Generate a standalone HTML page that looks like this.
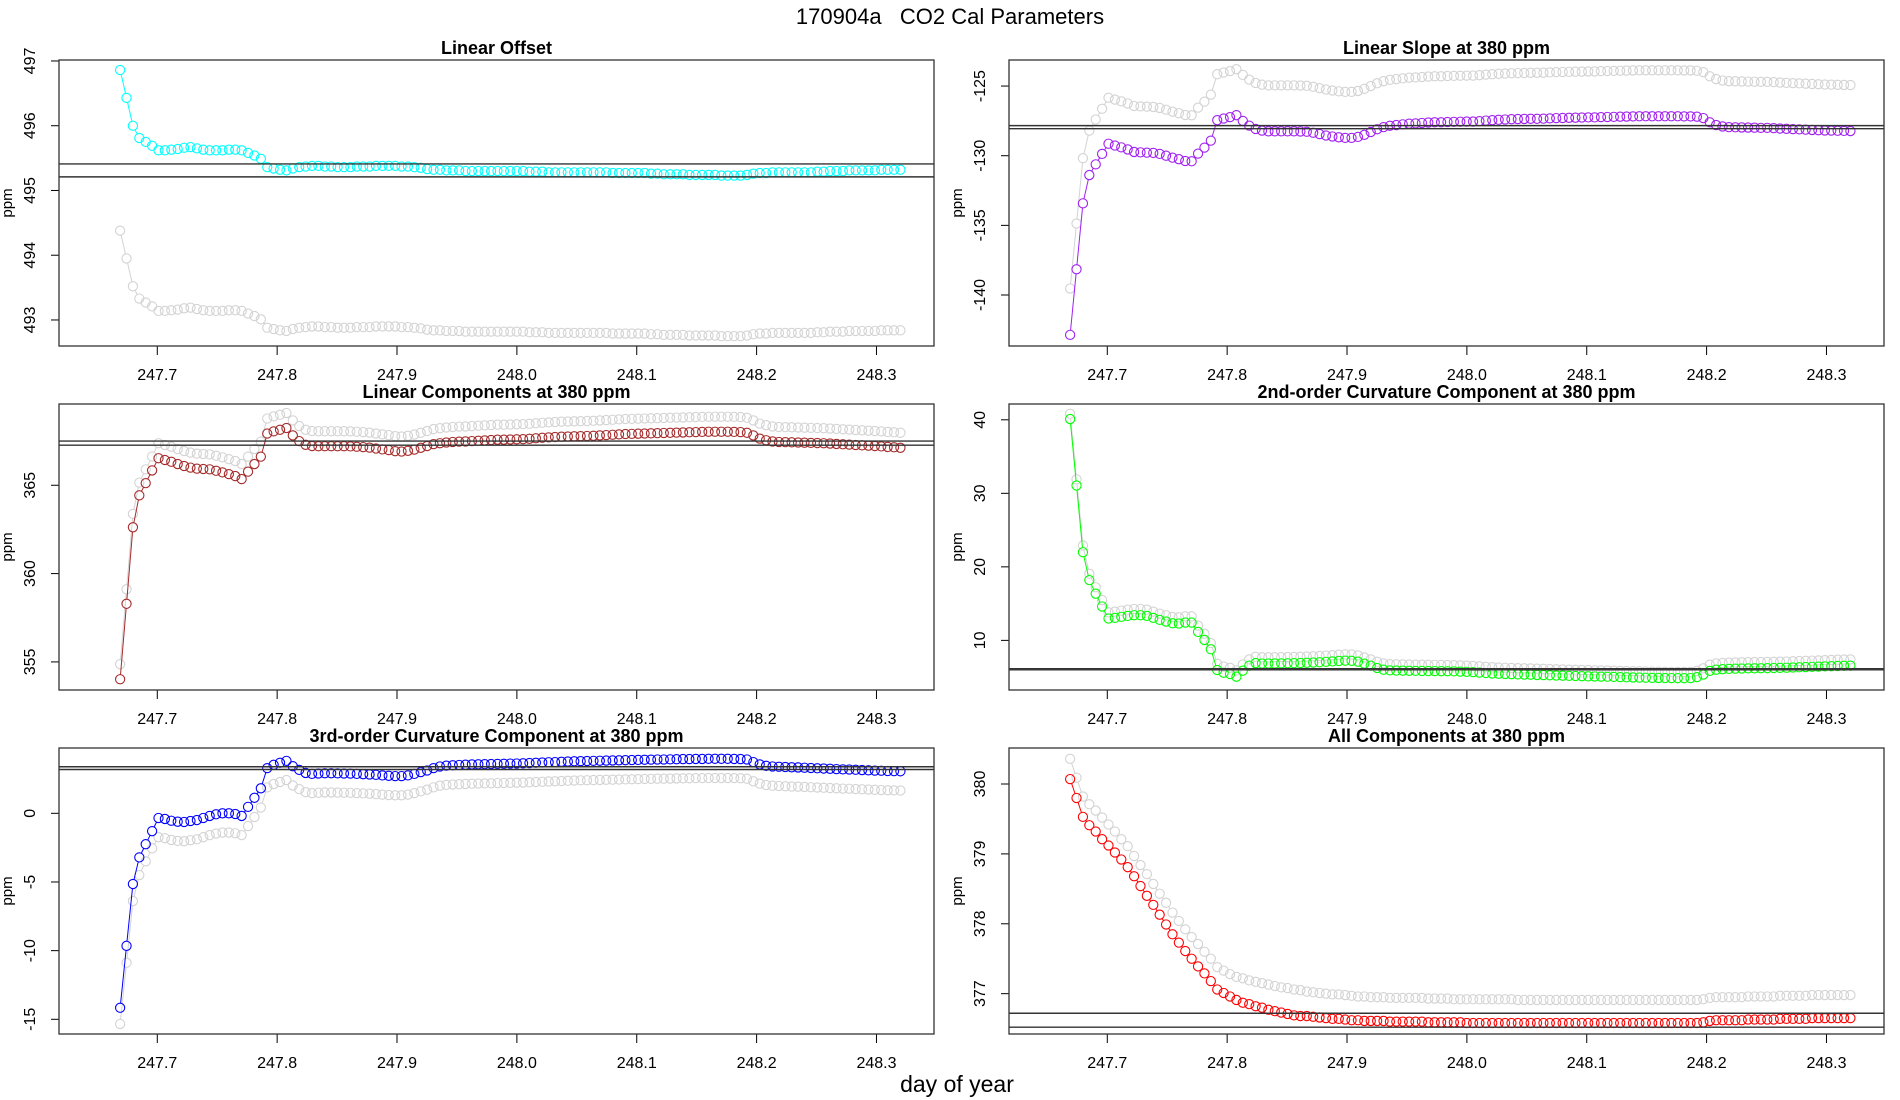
<!DOCTYPE html>
<html><head><meta charset="utf-8">
<style>
html,body{margin:0;padding:0;background:#fff;}
svg{display:block;font-family:"Liberation Sans",Arial,sans-serif;}
</style></head>
<body>
<svg id="chart" width="1900" height="1100" viewBox="0 0 1900 1100">
<text x="950" y="24" font-size="22" text-anchor="middle" fill="#000">170904a&#160;&#160;&#160;CO2 Cal Parameters</text>
<text x="957" y="1092" font-size="23" text-anchor="middle" fill="#000">day of year</text>
</svg>
<script>
const startDay = 247.669;
const stepDay = 0.005336;
const xTicks = [247.7, 247.8, 247.9, 248.0, 248.1, 248.2, 248.3];
const xTickLabels = ["247.7","247.8","247.9","248.0","248.1","248.2","248.3"];

const offsetCyan = [496.86,496.43,496.00,495.81,495.75,495.69,495.62,495.62,495.63,495.64,
495.66,495.67,495.65,495.63,495.62,495.62,495.62,495.63,495.63,495.62,
495.58,495.54,495.49,495.36,495.34,495.32,495.31,495.34,495.36,495.37,
495.38,495.38,495.37,495.37,495.36,495.36,495.36,495.37,495.37,495.37,
495.38,495.38,495.38,495.38,495.37,495.37,495.36,495.35,495.33,495.32,
495.32,495.31,495.31,495.31,495.30,495.30,495.30,495.30,495.30,495.30,
495.30,495.30,495.30,495.30,495.29,495.29,495.29,495.28,495.28,495.28,
495.28,495.28,495.28,495.28,495.28,495.28,495.28,495.27,495.27,495.27,
495.27,495.27,495.27,495.26,495.26,495.25,495.25,495.25,495.25,495.24,
495.24,495.24,495.24,495.24,495.23,495.23,495.23,495.23,495.24,495.26,
495.27,495.27,495.28,495.28,495.28,495.28,495.28,495.28,495.28,495.29,
495.29,495.30,495.30,495.30,495.31,495.31,495.31,495.31,495.31,495.32,
495.32,495.32,495.32];
const offsetGray = [494.38,493.95,493.52,493.33,493.27,493.21,493.14,493.14,493.15,493.16,
493.18,493.19,493.17,493.15,493.14,493.14,493.14,493.15,493.15,493.14,
493.10,493.06,493.01,492.88,492.86,492.84,492.83,492.86,492.88,492.89,
492.90,492.90,492.89,492.89,492.88,492.88,492.88,492.89,492.89,492.89,
492.90,492.90,492.90,492.90,492.89,492.89,492.88,492.87,492.85,492.84,
492.84,492.83,492.83,492.83,492.82,492.82,492.82,492.82,492.82,492.82,
492.82,492.82,492.82,492.82,492.81,492.81,492.81,492.80,492.80,492.80,
492.80,492.80,492.80,492.80,492.80,492.80,492.80,492.79,492.79,492.79,
492.79,492.79,492.79,492.78,492.78,492.77,492.77,492.77,492.77,492.76,
492.76,492.76,492.76,492.76,492.75,492.75,492.75,492.75,492.76,492.78,
492.79,492.79,492.80,492.80,492.80,492.80,492.80,492.80,492.80,492.81,
492.81,492.82,492.82,492.82,492.83,492.83,492.83,492.83,492.83,492.84,
492.84,492.84,492.84];
const offsetRefs = [495.41, 495.21];
const offsetTicks = [493,494,495,496,497];

const slopePurple = [-142.86,-138.15,-133.42,-131.39,-130.62,-129.87,-129.14,-129.27,-129.40,-129.55,
-129.73,-129.76,-129.78,-129.80,-129.87,-130.00,-130.14,-130.25,-130.38,-130.40,
-129.85,-129.42,-128.92,-127.45,-127.33,-127.23,-127.09,-127.50,-127.84,-128.08,
-128.20,-128.25,-128.25,-128.25,-128.25,-128.25,-128.26,-128.28,-128.35,-128.45,
-128.55,-128.62,-128.68,-128.72,-128.72,-128.65,-128.50,-128.30,-128.10,-127.95,
-127.85,-127.80,-127.75,-127.70,-127.68,-127.65,-127.62,-127.60,-127.60,-127.58,
-127.57,-127.56,-127.55,-127.55,-127.52,-127.48,-127.45,-127.42,-127.40,-127.38,
-127.37,-127.36,-127.35,-127.35,-127.34,-127.32,-127.30,-127.29,-127.28,-127.27,
-127.26,-127.25,-127.25,-127.23,-127.22,-127.21,-127.20,-127.19,-127.18,-127.17,
-127.17,-127.17,-127.17,-127.17,-127.17,-127.17,-127.18,-127.18,-127.20,-127.30,
-127.60,-127.80,-127.90,-127.95,-127.96,-127.97,-127.98,-127.99,-128.00,-128.00,
-128.02,-128.05,-128.07,-128.09,-128.11,-128.13,-128.15,-128.17,-128.19,-128.20,
-128.21,-128.22,-128.23];
const slopeGray = [-139.53,-134.87,-130.18,-128.20,-127.40,-126.63,-125.84,-125.97,-126.10,-126.25,
-126.43,-126.46,-126.48,-126.50,-126.57,-126.70,-126.84,-126.95,-127.08,-127.10,
-126.55,-126.12,-125.62,-124.15,-124.03,-123.93,-123.79,-124.20,-124.54,-124.78,
-124.90,-124.95,-124.95,-124.95,-124.95,-124.95,-124.96,-124.98,-125.05,-125.15,
-125.25,-125.32,-125.38,-125.42,-125.42,-125.35,-125.20,-125.00,-124.80,-124.65,
-124.55,-124.50,-124.45,-124.40,-124.38,-124.35,-124.32,-124.30,-124.30,-124.28,
-124.27,-124.26,-124.25,-124.25,-124.22,-124.18,-124.15,-124.12,-124.10,-124.08,
-124.07,-124.06,-124.05,-124.05,-124.04,-124.02,-124.00,-123.99,-123.98,-123.97,
-123.96,-123.95,-123.95,-123.93,-123.92,-123.91,-123.90,-123.89,-123.88,-123.87,
-123.87,-123.87,-123.87,-123.87,-123.87,-123.87,-123.88,-123.88,-123.90,-124.00,
-124.30,-124.50,-124.60,-124.65,-124.66,-124.67,-124.68,-124.69,-124.70,-124.70,
-124.72,-124.75,-124.77,-124.79,-124.81,-124.83,-124.85,-124.87,-124.89,-124.90,
-124.91,-124.92,-124.93];
const slopeRefs = [-127.84, -128.06];
const slopeTicks = [-140,-135,-130,-125];

const linCompBrown = [354.02,358.29,362.62,364.43,365.12,365.84,366.53,366.43,366.33,366.20,
366.09,366.00,365.94,365.92,365.90,365.82,365.73,365.63,365.52,365.35,
365.77,366.20,366.62,367.93,368.05,368.14,368.24,367.82,367.50,367.29,
367.22,367.21,367.21,367.21,367.21,367.21,367.20,367.18,367.16,367.13,
367.08,367.03,366.99,366.93,366.91,366.95,367.02,367.12,367.22,367.33,
367.38,367.42,367.45,367.47,367.48,367.50,367.52,367.54,367.56,367.58,
367.58,367.59,367.60,367.61,367.63,367.66,367.69,367.71,367.73,367.75,
367.76,367.77,367.78,367.79,367.80,367.82,367.84,367.86,367.88,367.90,
367.91,367.92,367.93,367.94,367.95,367.96,367.97,367.98,367.99,368.00,
368.01,368.02,368.03,368.03,368.03,368.03,368.02,368.01,367.97,367.82,
367.64,367.55,367.48,367.45,367.44,367.43,367.42,367.41,367.40,367.39,
367.38,367.36,367.34,367.32,367.30,367.28,367.26,367.24,367.22,367.20,
367.17,367.15,367.12];
const linCompGray = [354.87,359.11,363.38,365.15,365.90,366.63,367.38,367.28,367.18,367.05,
366.94,366.85,366.79,366.77,366.75,366.67,366.58,366.48,366.37,366.20,
366.62,367.05,367.47,368.78,368.90,368.99,369.09,368.67,368.35,368.14,
368.07,368.06,368.06,368.06,368.06,368.06,368.05,368.03,368.01,367.98,
367.93,367.88,367.84,367.78,367.76,367.80,367.87,367.97,368.07,368.18,
368.23,368.27,368.30,368.32,368.33,368.35,368.37,368.39,368.41,368.43,
368.43,368.44,368.45,368.46,368.48,368.51,368.54,368.56,368.58,368.60,
368.61,368.62,368.63,368.64,368.65,368.67,368.69,368.71,368.73,368.75,
368.76,368.77,368.78,368.79,368.80,368.81,368.82,368.83,368.84,368.85,
368.86,368.87,368.88,368.88,368.88,368.88,368.87,368.86,368.82,368.67,
368.49,368.40,368.33,368.30,368.29,368.28,368.27,368.26,368.25,368.24,
368.23,368.21,368.19,368.17,368.15,368.13,368.11,368.09,368.07,368.05,
368.02,368.00,367.97];
const linCompRefs = [367.5, 367.27];
const linCompTicks = [355,360,365];

const curv2Green = [40.10,31.06,21.99,18.19,16.35,14.61,12.97,13.06,13.20,13.33,
13.42,13.42,13.33,13.06,12.79,12.56,12.33,12.29,12.42,12.42,
11.15,10.06,8.79,5.97,5.60,5.42,5.06,5.88,6.56,6.92,
6.85,6.85,6.86,6.87,6.88,6.90,6.92,6.95,6.98,7.02,
7.08,7.14,7.20,7.24,7.22,7.10,6.83,6.56,6.24,6.01,
5.92,5.90,5.88,5.86,5.85,5.84,5.83,5.82,5.81,5.80,
5.78,5.75,5.72,5.68,5.62,5.56,5.50,5.46,5.43,5.40,
5.37,5.35,5.33,5.30,5.28,5.25,5.22,5.20,5.17,5.15,
5.13,5.11,5.09,5.07,5.05,5.03,5.00,4.98,4.96,4.94,
4.92,4.90,4.89,4.88,4.87,4.86,4.86,4.87,5.00,5.35,
5.85,6.01,6.08,6.12,6.15,6.17,6.19,6.20,6.21,6.22,
6.24,6.26,6.28,6.31,6.34,6.37,6.40,6.43,6.46,6.49,
6.52,6.54,6.56];
const curv2Gray = [40.82,31.90,22.91,19.06,17.23,15.48,13.82,13.91,14.05,14.18,
14.27,14.27,14.18,13.91,13.64,13.41,13.18,13.14,13.27,13.27,
12.00,10.91,9.64,6.82,6.45,6.27,5.91,6.73,7.41,7.77,
7.70,7.70,7.71,7.72,7.73,7.75,7.77,7.80,7.83,7.87,
7.93,7.99,8.05,8.09,8.07,7.95,7.68,7.41,7.09,6.86,
6.77,6.75,6.73,6.71,6.70,6.69,6.68,6.67,6.66,6.65,
6.63,6.60,6.57,6.53,6.47,6.41,6.35,6.31,6.28,6.25,
6.22,6.20,6.18,6.15,6.13,6.10,6.07,6.05,6.02,6.00,
5.98,5.96,5.94,5.92,5.90,5.88,5.85,5.83,5.81,5.79,
5.77,5.75,5.74,5.73,5.72,5.71,5.71,5.72,5.85,6.20,
6.70,6.86,6.93,6.97,7.00,7.02,7.04,7.05,7.06,7.07,
7.09,7.11,7.13,7.16,7.19,7.22,7.25,7.28,7.31,7.34,
7.37,7.39,7.41];
const curv2Refs = [6.0, 6.15];
const curv2Ticks = [10,20,30,40];

const curv3Blue = [-14.16,-9.65,-5.15,-3.21,-2.25,-1.30,-0.34,-0.41,-0.54,-0.61,
-0.63,-0.56,-0.49,-0.34,-0.19,-0.07,0.00,0.00,-0.05,-0.19,
0.47,1.13,1.82,3.29,3.53,3.68,3.82,3.43,3.16,2.94,
2.87,2.90,2.92,2.92,2.91,2.90,2.89,2.87,2.85,2.83,
2.80,2.76,2.73,2.71,2.71,2.76,2.87,3.00,3.12,3.29,
3.41,3.47,3.50,3.52,3.54,3.56,3.57,3.58,3.59,3.60,
3.61,3.62,3.63,3.64,3.66,3.68,3.70,3.72,3.73,3.75,
3.77,3.79,3.80,3.81,3.82,3.83,3.84,3.85,3.86,3.87,
3.88,3.89,3.90,3.91,3.92,3.92,3.93,3.94,3.95,3.95,
3.96,3.96,3.97,3.97,3.97,3.97,3.96,3.95,3.92,3.73,
3.56,3.46,3.41,3.39,3.37,3.35,3.34,3.32,3.30,3.28,
3.26,3.24,3.22,3.20,3.19,3.17,3.15,3.13,3.11,3.10,
3.08,3.07,3.06];
const curv3Gray = [-15.34,-10.88,-6.39,-4.50,-3.50,-2.55,-1.74,-1.81,-1.94,-2.01,
-2.03,-1.96,-1.89,-1.74,-1.59,-1.47,-1.40,-1.40,-1.45,-1.59,
-0.93,-0.27,0.42,1.89,2.13,2.28,2.42,2.03,1.76,1.54,
1.47,1.50,1.52,1.52,1.51,1.50,1.49,1.47,1.45,1.43,
1.40,1.36,1.33,1.31,1.31,1.36,1.47,1.60,1.72,1.89,
2.01,2.07,2.10,2.12,2.14,2.16,2.17,2.18,2.19,2.20,
2.21,2.22,2.23,2.24,2.26,2.28,2.30,2.32,2.33,2.35,
2.37,2.39,2.40,2.41,2.42,2.43,2.44,2.45,2.46,2.47,
2.48,2.49,2.50,2.51,2.52,2.52,2.53,2.54,2.55,2.55,
2.56,2.56,2.57,2.57,2.57,2.57,2.56,2.55,2.52,2.33,
2.16,2.06,2.01,1.99,1.97,1.95,1.94,1.92,1.90,1.88,
1.86,1.84,1.82,1.80,1.79,1.77,1.75,1.73,1.71,1.70,
1.68,1.67,1.66];
const curv3Refs = [3.39, 3.19];
const curv3Ticks = [-15,-10,-5,0];

const allRed = [380.07,379.80,379.53,379.41,379.32,379.21,379.12,379.02,378.92,378.81,
378.68,378.54,378.40,378.27,378.13,377.99,377.85,377.73,377.61,377.50,
377.39,377.29,377.18,377.06,377.01,376.96,376.91,376.87,376.85,376.82,
376.80,376.77,376.75,376.73,376.71,376.69,376.68,376.68,376.67,376.66,
376.65,376.64,376.64,376.63,376.62,376.62,376.61,376.61,376.61,376.61,
376.60,376.60,376.60,376.60,376.60,376.60,376.59,376.59,376.59,376.59,
376.59,376.59,376.58,376.58,376.58,376.58,376.58,376.58,376.58,376.58,
376.58,376.58,376.58,376.58,376.58,376.58,376.58,376.58,376.58,376.58,
376.58,376.58,376.58,376.58,376.58,376.58,376.58,376.58,376.58,376.58,
376.58,376.58,376.58,376.58,376.58,376.58,376.58,376.58,376.58,376.59,
376.61,376.62,376.62,376.62,376.62,376.62,376.63,376.63,376.63,376.63,
376.63,376.64,376.64,376.64,376.64,376.64,376.65,376.65,376.65,376.65,
376.65,376.65,376.65];
const allGray = [380.36,380.09,379.82,379.71,379.62,379.52,379.42,379.32,379.21,379.11,
378.97,378.84,378.71,378.57,378.43,378.30,378.16,378.04,377.92,377.81,
377.71,377.60,377.50,377.38,377.33,377.28,377.24,377.22,377.19,377.17,
377.15,377.13,377.11,377.09,377.08,377.06,377.05,377.03,377.02,377.01,
377.00,376.99,376.99,376.98,376.97,376.96,376.96,376.95,376.95,376.95,
376.94,376.94,376.94,376.94,376.94,376.94,376.93,376.93,376.93,376.93,
376.92,376.92,376.92,376.92,376.92,376.92,376.92,376.92,376.92,376.92,
376.91,376.91,376.91,376.91,376.91,376.91,376.91,376.91,376.91,376.91,
376.91,376.91,376.91,376.91,376.91,376.91,376.91,376.91,376.91,376.91,
376.91,376.91,376.91,376.91,376.91,376.91,376.91,376.91,376.91,376.92,
376.94,376.95,376.95,376.95,376.95,376.95,376.96,376.96,376.96,376.96,
376.96,376.97,376.97,376.97,376.97,376.97,376.98,376.98,376.98,376.98,
376.98,376.98,376.98];
const allRefs = [376.72, 376.52];
const allTicks = [377,378,379,380];

const NS = "http://www.w3.org/2000/svg";
const svg = document.getElementById('chart');
function mk(tag, attrs, parent) {
  const e = document.createElementNS(NS, tag);
  for (const k in attrs) e.setAttribute(k, attrs[k]);
  (parent || svg).appendChild(e);
  return e;
}

const panels = [
  {name:'linear-offset', title:'Linear Offset', col:0, row:0, y0:492.598, y1:497.015, ticks:offsetTicks, refs:offsetRefs, gray:offsetGray, main:offsetCyan, color:'#00FFFF'},
  {name:'linear-slope', title:'Linear Slope at 380 ppm', col:1, row:0, y0:-143.66, y1:-123.13, ticks:slopeTicks, refs:slopeRefs, gray:slopeGray, main:slopePurple, color:'#A020F0'},
  {name:'linear-components', title:'Linear Components at 380 ppm', col:0, row:1, y0:353.41, y1:369.6, ticks:linCompTicks, refs:linCompRefs, gray:linCompGray, main:linCompBrown, color:'#A52A2A'},
  {name:'second-order-curvature', title:'2nd-order Curvature Component at 380 ppm', col:1, row:1, y0:3.25, y1:42.15, ticks:curv2Ticks, refs:curv2Refs, gray:curv2Gray, main:curv2Green, color:'#00FF00'},
  {name:'third-order-curvature', title:'3rd-order Curvature Component at 380 ppm', col:0, row:2, y0:-16.07, y1:4.756, ticks:curv3Ticks, refs:curv3Refs, gray:curv3Gray, main:curv3Blue, color:'#0000FF'},
  {name:'all-components', title:'All Components at 380 ppm', col:1, row:2, y0:376.423, y1:380.515, ticks:allTicks, refs:allRefs, gray:allGray, main:allRed, color:'#FF0000'}
];

const X0 = 247.618, X1 = 248.348;
const R = 4.6;

panels.forEach(p => {
  const left = 59 + p.col*950, right = 934 + p.col*950;
  const top = 60 + p.row*344, bottom = 346 + p.row*344;
  const xs = v => left + (v - X0)/(X1 - X0)*(right-left);
  const ys = v => bottom - (v - p.y0)/(p.y1 - p.y0)*(bottom-top);
  const g = mk('g', {});
  
  

  const t = mk('text', {x:(left+right)/2, y:top-6, 'font-size':18, 'font-weight':'bold', 'text-anchor':'middle'}, g);
  t.textContent = p.title;
  
  

  const xa = mk('g', {}, g);
  
  
  mk('line', {x1:xs(xTicks[0]), x2:xs(xTicks[xTicks.length-1]), y1:bottom, y2:bottom, stroke:'#000', 'stroke-width':1}, xa);
  xTicks.forEach((v,i) => {
    mk('line', {x1:xs(v), x2:xs(v), y1:bottom, y2:bottom+9, stroke:'#000', 'stroke-width':1}, xa);
    const tl = mk('text', {x:xs(v), y:bottom+34, 'font-size':16, 'text-anchor':'middle'}, xa);
    tl.textContent = xTickLabels[i];
    
    
  });

  const ya = mk('g', {}, g);
  
  
  mk('line', {x1:left, x2:left, y1:ys(p.ticks[0]), y2:ys(p.ticks[p.ticks.length-1]), stroke:'#000', 'stroke-width':1}, ya);
  p.ticks.forEach(v => {
    mk('line', {x1:left-8, x2:left, y1:ys(v), y2:ys(v), stroke:'#000', 'stroke-width':1}, ya);
    const tx = left - 24, ty = ys(v);
    const tl = mk('text', {x:tx, y:ty, 'font-size':16, 'text-anchor':'middle', transform:`rotate(-90 ${tx} ${ty})`}, ya);
    tl.textContent = String(v);
    
    
  });
  const yt = mk('text', {x:left-47, y:(top+bottom)/2, 'font-size':15, 'text-anchor':'middle', transform:`rotate(-90 ${left-47} ${(top+bottom)/2})`}, ya);
  yt.textContent = 'ppm';
  
  

  function drawSeries(vals, color, label) {
    const sg = mk('g', {}, g);
    
    
    const pts = vals.map((v,i) => [xs(startDay + i*stepDay), ys(v)]);
    for (let i=0;i<pts.length-1;i++) {
      const [ax,ay] = pts[i], [bx,by] = pts[i+1];
      const d = Math.hypot(bx-ax, by-ay);
      if (d > 2*R + 1) {
        const ux=(bx-ax)/d, uy=(by-ay)/d;
        mk('line', {x1:ax+ux*R, y1:ay+uy*R, x2:bx-ux*R, y2:by-uy*R, stroke:color, 'stroke-width':1}, sg);
      }
    }
    pts.forEach(([x,y]) => {
      const c = mk('circle', {cx:x, cy:y, r:R, fill:'none', stroke:color, 'stroke-width':1.1}, sg);
      
      
    });
  }
  drawSeries(p.gray, '#D3D3D3', p.name + '-gray-series');
  drawSeries(p.main, p.color, p.name + '-main-series');

  p.refs.forEach(v => {
    const l = mk('line', {x1:left, x2:right, y1:ys(v), y2:ys(v), stroke:'#333', 'stroke-width':1.4}, g);
    
    
  });

  const box = mk('rect', {x:left, y:top, width:right-left, height:bottom-top, fill:'none', stroke:'#333', 'stroke-width':1.3}, g);
  
  
});
</script>
</body></html>
